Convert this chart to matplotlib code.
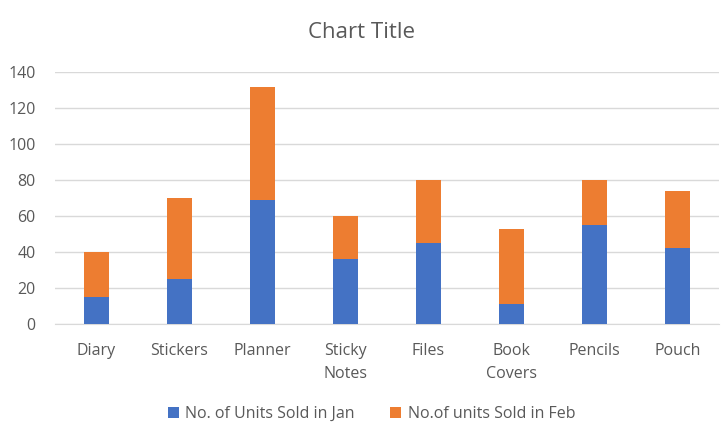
import matplotlib
matplotlib.use('Agg')
import matplotlib.pyplot as plt

plt.rcParams['font.family'] = ['Open Sans', 'DejaVu Sans']

items = ['Diary', 'Stickers', 'Planner', 'Sticky\nNotes', 'Files', 'Book\nCovers', 'Pencils', 'Pouch']
jan = [15, 25, 69, 36, 45, 11, 55, 42]
feb = [25, 45, 63, 24, 35, 42, 25, 32]

blue = '#4472C4'
orange = '#ED7D31'
grey = '#595959'

fig = plt.figure(figsize=(7.24, 4.32), dpi=100)
ax = fig.add_axes([0.076, 0.25, 0.917, 0.583])

x = range(len(items))
ax.bar(x, jan, width=0.31, color=blue, label='No. of Units Sold in Jan', zorder=3)
ax.bar(x, feb, width=0.31, bottom=jan, color=orange, label='No.of units Sold in Feb', zorder=3)

ax.set_xlim(-0.5, len(items) - 0.5)
ax.set_ylim(0, 140)
ax.set_yticks(range(0, 141, 20))
ax.set_xticks(list(x))
ax.set_xticklabels(items, linespacing=1.55, va='top')
ax.grid(axis='y', color='#D9D9D9', linewidth=1, zorder=0)
for s in ['top', 'right', 'left']:
    ax.spines[s].set_visible(False)
ax.spines['bottom'].set_color('#D9D9D9')
ax.tick_params(axis='both', length=0, labelsize=11.5, colors=grey)
ax.tick_params(axis='x', pad=14)
ax.tick_params(axis='y', pad=14)

fig.suptitle('Chart Title', y=0.948, fontsize=16, color=grey)
fig.legend(loc='center', bbox_to_anchor=(0.513, 0.042), ncol=2, frameon=False,
           fontsize=11.5, labelcolor=grey, handlelength=0.7, handleheight=0.7,
           columnspacing=2.2, handletextpad=0.4)

fig.savefig('out.png', dpi=100)
